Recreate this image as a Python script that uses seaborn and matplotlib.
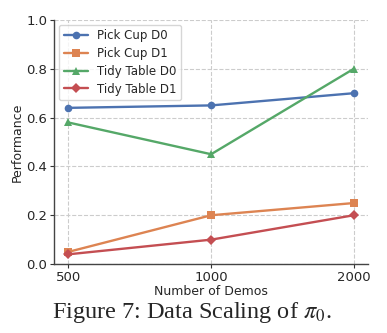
import matplotlib
matplotlib.use("Agg")
import matplotlib.pyplot as plt
import seaborn as sns
import pandas as pd

demos = [500, 1000, 2000]
tick_labels = ["500", "1000", "2000"]
pick_cup_d0 = [0.64, 0.65, 0.70]
pick_cup_d1 = [0.05, 0.20, 0.25]
tidy_table_d0 = [0.58, 0.45, 0.80]
tidy_table_d1 = [0.04, 0.10, 0.20]
series_names = ["Pick Cup D0", "Pick Cup D1", "Tidy Table D0", "Tidy Table D1"]
series_values = [pick_cup_d0, pick_cup_d1, tidy_table_d0, tidy_table_d1]
markers = ["o", "s", "^", "D"]

sns.set_theme(style="whitegrid", palette="deep")
plt.rcParams["font.family"] = ["DejaVu Sans"]

rows = []
for name, vals in zip(series_names, series_values):
    for i, v in enumerate(vals):
        rows.append({"idx": i, "Performance": v, "Series": name})
df = pd.DataFrame(rows)

fig = plt.figure(figsize=(3.87, 3.33), dpi=100)
ax = fig.add_axes([0.14, 0.207, 0.811, 0.733])
colors = sns.color_palette("deep")
for k, name in enumerate(series_names):
    sub = df[df["Series"] == name]
    sns.lineplot(data=sub, x="idx", y="Performance", ax=ax, color=colors[k],
                 marker=markers[k], markersize=5.5 if markers[k] != "D" else 5,
                 markeredgewidth=0, linewidth=1.7, label=name)

ax.set_xticks(range(len(demos)))
ax.set_xticklabels(tick_labels)
ax.set_xlim(-0.1, 2.1)
ax.set_ylim(0, 1.0)
ax.set_yticks([0, 0.2, 0.4, 0.6, 0.8, 1.0])
ax.set_xlabel("Number of Demos", fontsize=9, labelpad=1)
ax.set_ylabel("Performance", fontsize=9, labelpad=2)
ax.tick_params(axis="both", labelsize=9.5, length=3, width=0.8, color="#333333", left=True, bottom=True, pad=2)
ax.grid(True, linestyle="--", color="#cccccc", linewidth=0.8)
for s in ["top", "right"]:
    ax.spines[s].set_visible(False)
for s in ["left", "bottom"]:
    ax.spines[s].set_color("#444444")
    ax.spines[s].set_linewidth(1.0)
ax.set_facecolor("white")
leg = ax.legend(loc="upper left", fontsize=8.5, frameon=True, borderpad=0.4,
                labelspacing=0.4, handlelength=2.1, handletextpad=0.7,
                borderaxespad=0.4)
leg.get_frame().set_edgecolor("#cccccc")

fig.text(0.495, 0.063, r"Figure 7: Data Scaling of $\pi_0$.", ha="center", va="center",
         fontsize=17.5, family="Liberation Serif", math_fontfamily="stix")

fig.savefig("out.png", dpi=100)
